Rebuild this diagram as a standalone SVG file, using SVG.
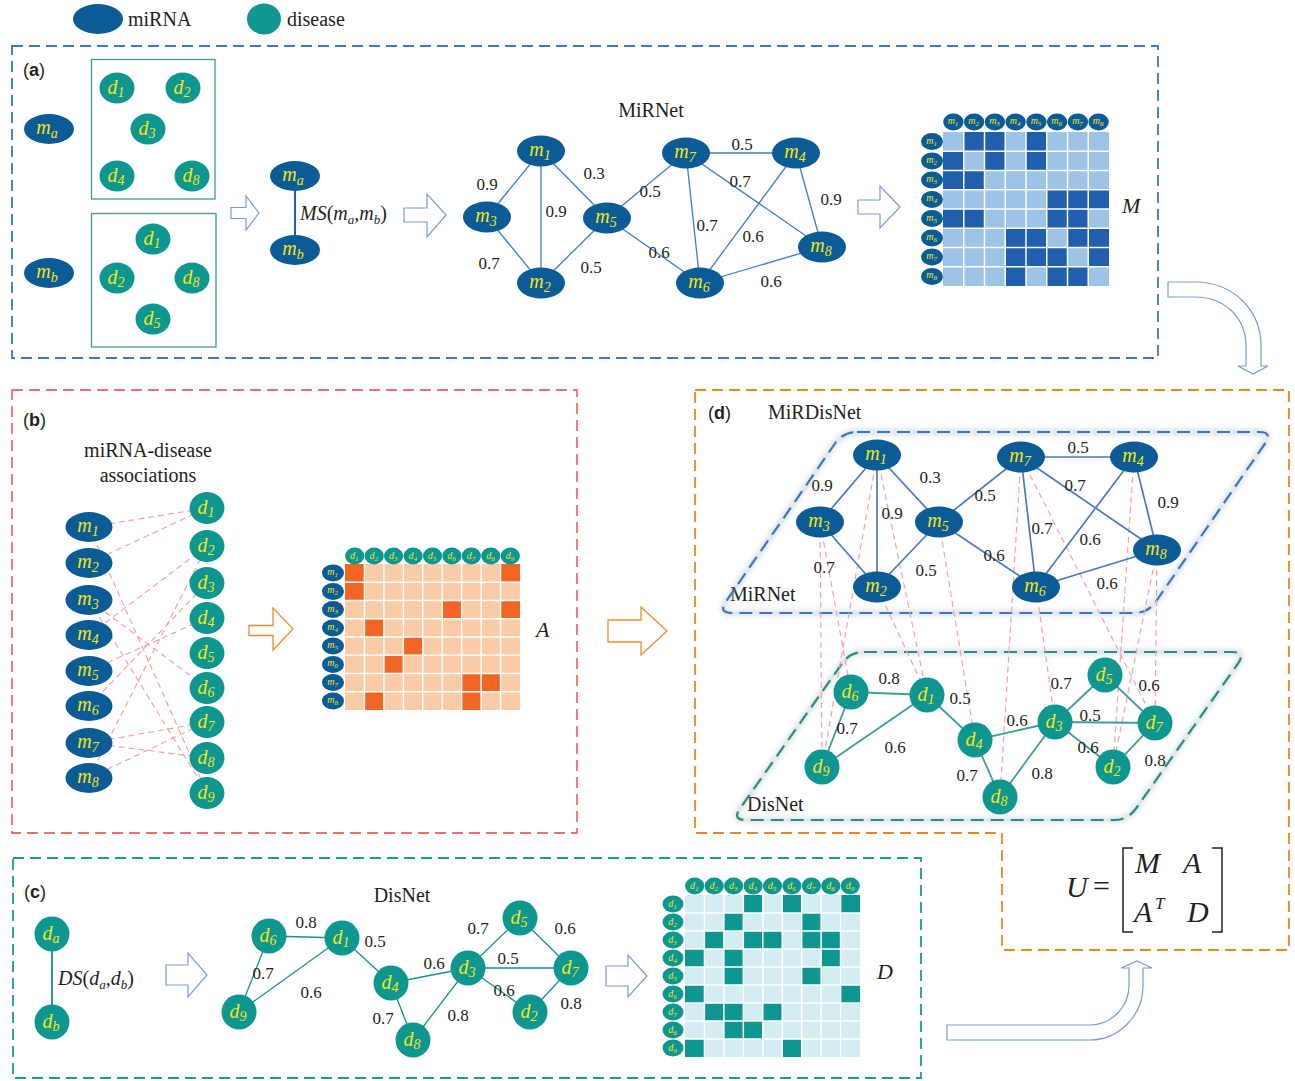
<svg xmlns="http://www.w3.org/2000/svg" width="1295" height="1081" viewBox="0 0 1295 1081">
<defs>
<style>
.mi{fill:#0B5C96}
.di{fill:#0E9690}
.lb{font-family:"Liberation Serif",serif;font-style:italic;font-size:20px;fill:#F3E617;text-anchor:middle}
.lb tspan{font-size:14px}
.hl{font-family:"Liberation Serif",serif;font-style:italic;font-size:10px;fill:#F3E617;text-anchor:middle}
.hl tspan{font-size:7px}
.num{font-family:"Liberation Serif",serif;font-size:17px;fill:#231F20;text-anchor:middle}
.tt{font-family:"Liberation Serif",serif;font-size:20px;fill:#231F20}
.it{font-family:"Liberation Serif",serif;font-style:italic;fill:#231F20}
.pl{font-family:"Liberation Sans",Arial,sans-serif;font-size:18px;fill:#231F20}
.eM{stroke:#3D7DCA;stroke-width:1.3;fill:none}
.eMd{stroke:#4A78C2;stroke-width:1.7;fill:none}
.eD{stroke:#16918B;stroke-width:1.3;fill:none}
.eDd{stroke:#3F9C96;stroke-width:1.8;fill:none}
.as{stroke:#F49A9A;stroke-width:1.1;stroke-dasharray:6 4;fill:none}
.as2{stroke:#F4A3A3;stroke-width:1.2;stroke-dasharray:6 4;fill:none}
.ha{fill:#fff;stroke:#7B9BD8;stroke-width:1.2}
.ho{fill:#fff;stroke:#F08A30;stroke-width:1.3}
.grid{stroke:#fff;stroke-width:1.5;fill:none}
.box{fill:none;stroke:#3E9A94;stroke-width:1.3}
</style>
<rect id="cm" width="20.75" height="19.25" fill="#1F5FAE"/>
<rect id="ca" width="19.44" height="18.25" fill="#F26522"/>
<rect id="cd" width="19.44" height="18" fill="#0E9690"/>
<filter id="sh" x="-10%" y="-10%" width="120%" height="120%"><feGaussianBlur stdDeviation="2.5"/></filter>
</defs>
<rect width="1295" height="1081" fill="#fff"/>

<!-- legend -->
<g id="legend">
<ellipse class="mi" cx="98" cy="19" rx="25" ry="15"/>
<text class="tt" x="128" y="26" font-size="21">miRNA</text>
<ellipse class="di" cx="264" cy="19" rx="17" ry="15.5"/>
<text class="tt" x="287" y="26" font-size="21">disease</text>
</g>

<!-- panel frames -->
<g id="frames" fill="none">
<rect x="12" y="46" width="1146" height="312" stroke="#3B77C6" stroke-width="1.8" stroke-dasharray="11 6"/>
<rect x="12" y="390" width="565" height="443" stroke="#EE6E73" stroke-width="1.8" stroke-dasharray="11 6"/>
<rect x="13" y="858" width="908" height="220" stroke="#1E9A94" stroke-width="1.8" stroke-dasharray="11 6"/>
<path d="M695,390 H1289 V950 H1002 V833 H695 Z" stroke="#F08325" stroke-width="1.8" stroke-dasharray="11 6"/>
</g>

<!-- panel labels and titles -->
<g id="titles">
<text class="pl" x="23" y="76">(<tspan font-weight="bold">a</tspan>)</text>
<text class="pl" x="23" y="426">(<tspan font-weight="bold">b</tspan>)</text>
<text class="pl" x="24" y="898">(<tspan font-weight="bold">c</tspan>)</text>
<text class="pl" x="708" y="419">(<tspan font-weight="bold">d</tspan>)</text>
<text class="tt" x="651" y="117" text-anchor="middle">MiRNet</text>
<text class="tt" x="148" y="457" text-anchor="middle">miRNA-disease</text>
<text class="tt" x="148" y="482" text-anchor="middle">associations</text>
<text class="tt" x="402" y="902" text-anchor="middle">DisNet</text>
<text class="tt" x="768" y="419">MiRDisNet</text>
<text class="tt" x="730" y="601">MiRNet</text>
<text class="tt" x="747" y="811">DisNet</text>
<text class="it" x="1122" y="213" font-size="22">M</text>
<text class="it" x="536" y="637" font-size="22">A</text>
<text class="it" x="877" y="979" font-size="22">D</text>
</g>

<!-- panel (a) left -->
<g id="a-ma"><ellipse class="mi" cx="49" cy="129" rx="25" ry="15"/><text class="lb" x="47" y="134">m<tspan dy="4">a</tspan></text></g>
<g id="a-mb"><ellipse class="mi" cx="49" cy="273" rx="25" ry="15"/><text class="lb" x="47" y="278">m<tspan dy="4">b</tspan></text></g>
<g id="a-box1">
<rect class="box" x="91.5" y="59.5" width="123.5" height="139.5"/>
<ellipse class="di" cx="117" cy="88" rx="17.5" ry="15.5"/><text class="lb" x="116" y="94">d<tspan dy="3">1</tspan></text>
<ellipse class="di" cx="183" cy="88" rx="17.5" ry="15.5"/><text class="lb" x="182" y="94">d<tspan dy="3">2</tspan></text>
<ellipse class="di" cx="148" cy="129" rx="17.5" ry="15.5"/><text class="lb" x="147" y="135">d<tspan dy="3">3</tspan></text>
<ellipse class="di" cx="117" cy="176" rx="17.5" ry="15.5"/><text class="lb" x="116" y="182">d<tspan dy="3">4</tspan></text>
<ellipse class="di" cx="192" cy="176" rx="17.5" ry="15.5"/><text class="lb" x="191" y="182">d<tspan dy="3">8</tspan></text>
</g>
<g id="a-box2">
<rect class="box" x="91.5" y="213.5" width="124.5" height="133.5"/>
<ellipse class="di" cx="153" cy="239" rx="17.5" ry="15.5"/><text class="lb" x="152" y="245">d<tspan dy="3">1</tspan></text>
<ellipse class="di" cx="117" cy="278" rx="17.5" ry="15.5"/><text class="lb" x="116" y="284">d<tspan dy="3">2</tspan></text>
<ellipse class="di" cx="192" cy="278" rx="17.5" ry="15.5"/><text class="lb" x="191" y="284">d<tspan dy="3">8</tspan></text>
<ellipse class="di" cx="153" cy="319" rx="17.5" ry="15.5"/><text class="lb" x="152" y="325">d<tspan dy="3">5</tspan></text>
</g>
<g id="a-ms">
<line x1="295" y1="190" x2="295" y2="236" stroke="#1F5FAE" stroke-width="2"/>
<ellipse class="mi" cx="295" cy="176" rx="25" ry="15"/><text class="lb" x="293" y="181">m<tspan dy="4">a</tspan></text>
<ellipse class="mi" cx="295" cy="250" rx="25" ry="15"/><text class="lb" x="293" y="255">m<tspan dy="4">b</tspan></text>
<text class="it" x="300" y="220" font-size="20">MS<tspan font-style="normal">(</tspan>m<tspan font-size="13" dy="4">a</tspan><tspan dy="-4">,m</tspan><tspan font-size="13" dy="4">b</tspan><tspan font-style="normal" dy="-4">)</tspan></text>
</g>

<!-- hollow arrows -->
<g id="arrows">
<path class="ha" d="M231,207.5 H246 V196 L259,213 L246,230 V218.5 H231 Z"/>
<path class="ha" d="M404,208 H427 V194 L446,215 L427,237 V222 H404 Z"/>
<path class="ha" d="M858,200 H880 V186 L900,207 L880,228 V214 H858 Z"/>
<path class="ho" d="M249,625.5 H273 V608 L293,629 L273,650 V635.5 H249 Z"/>
<path class="ho" d="M608,620 H641 V607 L667,631 L641,655 V642 H608 Z"/>
<path class="ha" d="M166,965 H188 V953 L207,975 L188,997 V985 H166 Z"/>
<path class="ha" d="M606,966 H628 V955 L647,976 L628,997 V986 H606 Z"/>
<path class="ha" stroke="#6E8FD0" d="M1168,282 H1195 C1233,282 1261,310 1261,346 V366 H1268 L1253,374 L1238,366 H1246 V346 C1246,318 1225,297 1195,297 H1168 Z"/>
<path class="ha" stroke="#6E8FD0" d="M947,1025 H1090 C1112,1025 1129,1006 1129,986 V968 H1121 L1137,961 L1152,968 H1143 V986 C1143,1016 1118,1040 1090,1040 H947 Z"/>
</g>

<!-- MiRNet (a) connectors -->
<g id="mirnet-a-edges" class="eM">
<line x1="541" y1="151" x2="487" y2="217"/>
<line x1="541" y1="151" x2="541" y2="283"/>
<line x1="541" y1="151" x2="607" y2="218"/>
<line x1="487" y1="217" x2="541" y2="283"/>
<line x1="541" y1="283" x2="607" y2="218"/>
<line x1="607" y1="218" x2="686" y2="153"/>
<line x1="607" y1="218" x2="700" y2="283"/>
<line x1="686" y1="153" x2="796" y2="153"/>
<line x1="686" y1="153" x2="700" y2="283"/>
<line x1="686" y1="153" x2="822" y2="247"/>
<line x1="796" y1="153" x2="700" y2="283"/>
<line x1="796" y1="153" x2="822" y2="247"/>
<line x1="700" y1="283" x2="822" y2="247"/>
</g>
<g id="mirnet-a-weights" class="num">
<text x="487" y="190">0.9</text><text x="556" y="217">0.9</text><text x="594" y="179">0.3</text>
<text x="489" y="269">0.7</text><text x="591" y="273">0.5</text><text x="650" y="197">0.5</text>
<text x="659" y="258">0.6</text><text x="742" y="150">0.5</text><text x="740" y="187">0.7</text>
<text x="707" y="231">0.7</text><text x="753" y="242">0.6</text><text x="831" y="205">0.9</text>
<text x="771" y="287">0.6</text>
</g>
<g id="mirnet-a-m1"><ellipse class="mi" cx="541" cy="151" rx="24" ry="15.5"/><text class="lb" x="540" y="156">m<tspan dy="4">1</tspan></text></g>
<g id="mirnet-a-m3"><ellipse class="mi" cx="487" cy="217" rx="24" ry="15.5"/><text class="lb" x="486" y="222">m<tspan dy="4">3</tspan></text></g>
<g id="mirnet-a-m2"><ellipse class="mi" cx="541" cy="283" rx="24" ry="15.5"/><text class="lb" x="540" y="288">m<tspan dy="4">2</tspan></text></g>
<g id="mirnet-a-m5"><ellipse class="mi" cx="607" cy="218" rx="24" ry="15.5"/><text class="lb" x="606" y="223">m<tspan dy="4">5</tspan></text></g>
<g id="mirnet-a-m7"><ellipse class="mi" cx="686" cy="153" rx="24" ry="15.5"/><text class="lb" x="685" y="158">m<tspan dy="4">7</tspan></text></g>
<g id="mirnet-a-m4"><ellipse class="mi" cx="796" cy="153" rx="24" ry="15.5"/><text class="lb" x="795" y="158">m<tspan dy="4">4</tspan></text></g>
<g id="mirnet-a-m8"><ellipse class="mi" cx="822" cy="247" rx="24" ry="15.5"/><text class="lb" x="821" y="252">m<tspan dy="4">8</tspan></text></g>
<g id="mirnet-a-m6"><ellipse class="mi" cx="700" cy="283" rx="24" ry="15.5"/><text class="lb" x="699" y="288">m<tspan dy="4">6</tspan></text></g>

<!-- Matrix M -->
<g id="matrix-M">
<rect x="943" y="132" width="166" height="154" fill="#9DC3E6"/>
<use href="#cm" x="963.75" y="132"/><use href="#cm" x="984.5" y="132"/><use href="#cm" x="1026" y="132"/>
<use href="#cm" x="943" y="151.25"/><use href="#cm" x="984.5" y="151.25"/><use href="#cm" x="1026" y="151.25"/>
<use href="#cm" x="943" y="170.5"/><use href="#cm" x="963.75" y="170.5"/>
<use href="#cm" x="1046.75" y="189.75"/><use href="#cm" x="1067.5" y="189.75"/><use href="#cm" x="1088.25" y="189.75"/>
<use href="#cm" x="943" y="209"/><use href="#cm" x="963.75" y="209"/><use href="#cm" x="1046.75" y="209"/><use href="#cm" x="1067.5" y="209"/>
<use href="#cm" x="1005.25" y="228.25"/><use href="#cm" x="1026" y="228.25"/><use href="#cm" x="1067.5" y="228.25"/><use href="#cm" x="1088.25" y="228.25"/>
<use href="#cm" x="1005.25" y="247.5"/><use href="#cm" x="1026" y="247.5"/><use href="#cm" x="1046.75" y="247.5"/><use href="#cm" x="1088.25" y="247.5"/>
<use href="#cm" x="1005.25" y="266.75"/><use href="#cm" x="1046.75" y="266.75"/><use href="#cm" x="1067.5" y="266.75"/>
<path class="grid" d="M963.75,132V286M984.5,132V286M1005.25,132V286M1026,132V286M1046.75,132V286M1067.5,132V286M1088.25,132V286M943,151.25H1109M943,170.5H1109M943,189.75H1109M943,209H1109M943,228.25H1109M943,247.5H1109M943,266.75H1109"/>
<g class="mi">
<ellipse cx="953.4" cy="122" rx="10.2" ry="8.5"/><ellipse cx="974.1" cy="122" rx="10.2" ry="8.5"/><ellipse cx="994.9" cy="122" rx="10.2" ry="8.5"/><ellipse cx="1015.6" cy="122" rx="10.2" ry="8.5"/><ellipse cx="1036.4" cy="122" rx="10.2" ry="8.5"/><ellipse cx="1057.1" cy="122" rx="10.2" ry="8.5"/><ellipse cx="1077.9" cy="122" rx="10.2" ry="8.5"/><ellipse cx="1098.6" cy="122" rx="10.2" ry="8.5"/>
<ellipse cx="932" cy="141.6" rx="11" ry="8.5"/><ellipse cx="932" cy="160.9" rx="11" ry="8.5"/><ellipse cx="932" cy="180.1" rx="11" ry="8.5"/><ellipse cx="932" cy="199.4" rx="11" ry="8.5"/><ellipse cx="932" cy="218.6" rx="11" ry="8.5"/><ellipse cx="932" cy="237.9" rx="11" ry="8.5"/><ellipse cx="932" cy="257.1" rx="11" ry="8.5"/><ellipse cx="932" cy="276.4" rx="11" ry="8.5"/>
</g>
<g class="hl">
<text x="953" y="124">m<tspan dy="2">1</tspan></text><text x="973.7" y="124">m<tspan dy="2">2</tspan></text><text x="994.5" y="124">m<tspan dy="2">3</tspan></text><text x="1015.2" y="124">m<tspan dy="2">4</tspan></text><text x="1036" y="124">m<tspan dy="2">5</tspan></text><text x="1056.7" y="124">m<tspan dy="2">6</tspan></text><text x="1077.5" y="124">m<tspan dy="2">7</tspan></text><text x="1098.2" y="124">m<tspan dy="2">8</tspan></text>
<text x="931.6" y="143.6">m<tspan dy="2">1</tspan></text><text x="931.6" y="162.9">m<tspan dy="2">2</tspan></text><text x="931.6" y="182.1">m<tspan dy="2">3</tspan></text><text x="931.6" y="201.4">m<tspan dy="2">4</tspan></text><text x="931.6" y="220.6">m<tspan dy="2">5</tspan></text><text x="931.6" y="239.9">m<tspan dy="2">6</tspan></text><text x="931.6" y="259.1">m<tspan dy="2">7</tspan></text><text x="931.6" y="278.4">m<tspan dy="2">8</tspan></text>
</g>
</g>

<!-- panel (b) associations -->
<g id="b-assoc" class="as">
<line x1="89" y1="527" x2="207" y2="508"/>
<line x1="89" y1="527" x2="207" y2="793"/>
<line x1="89" y1="563" x2="207" y2="508"/>
<line x1="89" y1="600" x2="207" y2="688"/>
<line x1="89" y1="600" x2="207" y2="793"/>
<line x1="89" y1="635" x2="207" y2="546"/>
<line x1="89" y1="671" x2="207" y2="618"/>
<line x1="89" y1="706" x2="207" y2="583"/>
<line x1="89" y1="743" x2="207" y2="722"/>
<line x1="89" y1="743" x2="207" y2="758"/>
<line x1="89" y1="778" x2="207" y2="546"/>
<line x1="89" y1="778" x2="207" y2="722"/>
</g>
<g id="b-m1"><ellipse class="mi" cx="89" cy="527" rx="23.5" ry="15"/><text class="lb" x="88" y="532">m<tspan dy="4">1</tspan></text></g>
<g id="b-m2"><ellipse class="mi" cx="89" cy="563" rx="23.5" ry="15"/><text class="lb" x="88" y="568">m<tspan dy="4">2</tspan></text></g>
<g id="b-m3"><ellipse class="mi" cx="89" cy="600" rx="23.5" ry="15"/><text class="lb" x="88" y="605">m<tspan dy="4">3</tspan></text></g>
<g id="b-m4"><ellipse class="mi" cx="89" cy="635" rx="23.5" ry="15"/><text class="lb" x="88" y="640">m<tspan dy="4">4</tspan></text></g>
<g id="b-m5"><ellipse class="mi" cx="89" cy="671" rx="23.5" ry="15"/><text class="lb" x="88" y="676">m<tspan dy="4">5</tspan></text></g>
<g id="b-m6"><ellipse class="mi" cx="89" cy="706" rx="23.5" ry="15"/><text class="lb" x="88" y="711">m<tspan dy="4">6</tspan></text></g>
<g id="b-m7"><ellipse class="mi" cx="89" cy="743" rx="23.5" ry="15"/><text class="lb" x="88" y="748">m<tspan dy="4">7</tspan></text></g>
<g id="b-m8"><ellipse class="mi" cx="89" cy="778" rx="23.5" ry="15"/><text class="lb" x="88" y="783">m<tspan dy="4">8</tspan></text></g>
<g id="b-d1"><ellipse class="di" cx="207" cy="508" rx="17.5" ry="16"/><text class="lb" x="206" y="514">d<tspan dy="3">1</tspan></text></g>
<g id="b-d2"><ellipse class="di" cx="207" cy="546" rx="17.5" ry="16"/><text class="lb" x="206" y="552">d<tspan dy="3">2</tspan></text></g>
<g id="b-d3"><ellipse class="di" cx="207" cy="583" rx="17.5" ry="16"/><text class="lb" x="206" y="589">d<tspan dy="3">3</tspan></text></g>
<g id="b-d4"><ellipse class="di" cx="207" cy="618" rx="17.5" ry="16"/><text class="lb" x="206" y="624">d<tspan dy="3">4</tspan></text></g>
<g id="b-d5"><ellipse class="di" cx="207" cy="653" rx="17.5" ry="16"/><text class="lb" x="206" y="659">d<tspan dy="3">5</tspan></text></g>
<g id="b-d6"><ellipse class="di" cx="207" cy="688" rx="17.5" ry="16"/><text class="lb" x="206" y="694">d<tspan dy="3">6</tspan></text></g>
<g id="b-d7"><ellipse class="di" cx="207" cy="722" rx="17.5" ry="16"/><text class="lb" x="206" y="728">d<tspan dy="3">7</tspan></text></g>
<g id="b-d8"><ellipse class="di" cx="207" cy="758" rx="17.5" ry="16"/><text class="lb" x="206" y="764">d<tspan dy="3">8</tspan></text></g>
<g id="b-d9"><ellipse class="di" cx="207" cy="793" rx="17.5" ry="16"/><text class="lb" x="206" y="799">d<tspan dy="3">9</tspan></text></g>

<!-- Matrix A -->
<g id="matrix-A">
<rect x="345" y="564" width="175" height="146" fill="#F9CBA6"/>
<use href="#ca" x="345" y="564"/><use href="#ca" x="500.56" y="564"/>
<use href="#ca" x="345" y="582.25"/>
<use href="#ca" x="442.22" y="600.5"/><use href="#ca" x="500.56" y="600.5"/>
<use href="#ca" x="364.44" y="618.75"/>
<use href="#ca" x="403.33" y="637"/>
<use href="#ca" x="383.89" y="655.25"/>
<use href="#ca" x="461.67" y="673.5"/><use href="#ca" x="481.11" y="673.5"/>
<use href="#ca" x="364.44" y="691.75"/><use href="#ca" x="461.67" y="691.75"/>
<path class="grid" d="M364.44,564V710M383.89,564V710M403.33,564V710M422.78,564V710M442.22,564V710M461.67,564V710M481.11,564V710M500.56,564V710M345,582.25H520M345,600.5H520M345,618.75H520M345,637H520M345,655.25H520M345,673.5H520M345,691.75H520"/>
<g class="di">
<ellipse cx="354.7" cy="556" rx="9.6" ry="8.5"/><ellipse cx="374.2" cy="556" rx="9.6" ry="8.5"/><ellipse cx="393.6" cy="556" rx="9.6" ry="8.5"/><ellipse cx="413.1" cy="556" rx="9.6" ry="8.5"/><ellipse cx="432.5" cy="556" rx="9.6" ry="8.5"/><ellipse cx="451.9" cy="556" rx="9.6" ry="8.5"/><ellipse cx="471.4" cy="556" rx="9.6" ry="8.5"/><ellipse cx="490.8" cy="556" rx="9.6" ry="8.5"/><ellipse cx="510.3" cy="556" rx="9.6" ry="8.5"/>
</g>
<g class="mi">
<ellipse cx="333" cy="573.1" rx="11" ry="8.5"/><ellipse cx="333" cy="591.4" rx="11" ry="8.5"/><ellipse cx="333" cy="609.6" rx="11" ry="8.5"/><ellipse cx="333" cy="627.9" rx="11" ry="8.5"/><ellipse cx="333" cy="646.1" rx="11" ry="8.5"/><ellipse cx="333" cy="664.4" rx="11" ry="8.5"/><ellipse cx="333" cy="682.6" rx="11" ry="8.5"/><ellipse cx="333" cy="700.9" rx="11" ry="8.5"/>
</g>
<g class="hl">
<text x="354.3" y="559">d<tspan dy="2">1</tspan></text><text x="373.8" y="559">d<tspan dy="2">2</tspan></text><text x="393.2" y="559">d<tspan dy="2">3</tspan></text><text x="412.7" y="559">d<tspan dy="2">4</tspan></text><text x="432.1" y="559">d<tspan dy="2">5</tspan></text><text x="451.5" y="559">d<tspan dy="2">6</tspan></text><text x="471" y="559">d<tspan dy="2">7</tspan></text><text x="490.4" y="559">d<tspan dy="2">8</tspan></text><text x="509.9" y="559">d<tspan dy="2">9</tspan></text>
<text x="332.6" y="575.1">m<tspan dy="2">1</tspan></text><text x="332.6" y="593.4">m<tspan dy="2">2</tspan></text><text x="332.6" y="611.6">m<tspan dy="2">3</tspan></text><text x="332.6" y="629.9">m<tspan dy="2">4</tspan></text><text x="332.6" y="648.1">m<tspan dy="2">5</tspan></text><text x="332.6" y="666.4">m<tspan dy="2">6</tspan></text><text x="332.6" y="684.6">m<tspan dy="2">7</tspan></text><text x="332.6" y="702.9">m<tspan dy="2">8</tspan></text>
</g>
</g>

<!-- panel (d) -->
<g id="d-planes" fill="none">
<path d="M857,432 H1259 Q1273,432 1265,443.5 L1156,601.5 Q1148,613 1134,613 H732 Q718,613 726,601.5 L835,443.5 Q843,432 857,432 Z" stroke="#9FB4C8" stroke-width="5" opacity="0.45" filter="url(#sh)"/>
<path d="M864,652 H1232 Q1246,652 1238,663.5 L1136,808.5 Q1128,820 1114,820 H746 Q732,820 740,808.5 L842,663.5 Q850,652 864,652 Z" stroke="#9FB8B8" stroke-width="5" opacity="0.45" filter="url(#sh)"/>
<path d="M857,432 H1259 Q1273,432 1265,443.5 L1156,601.5 Q1148,613 1134,613 H732 Q718,613 726,601.5 L835,443.5 Q843,432 857,432 Z" stroke="#3B77C6" stroke-width="2.2" stroke-dasharray="13 7"/>
<path d="M864,652 H1232 Q1246,652 1238,663.5 L1136,808.5 Q1128,820 1114,820 H746 Q732,820 740,808.5 L842,663.5 Q850,652 864,652 Z" stroke="#2E8B84" stroke-width="2.2" stroke-dasharray="13 7"/>
</g>
<g id="d-assoc" class="as2">
<line x1="877" y1="455" x2="927" y2="695"/>
<line x1="877" y1="455" x2="822" y2="767"/>
<line x1="877" y1="587" x2="927" y2="695"/>
<line x1="820" y1="522" x2="851" y2="692"/>
<line x1="820" y1="522" x2="822" y2="767"/>
<line x1="1134" y1="457" x2="1113" y2="767"/>
<line x1="939" y1="522" x2="975" y2="740"/>
<line x1="1036" y1="587" x2="1055" y2="722"/>
<line x1="1021" y1="457" x2="1155" y2="723"/>
<line x1="1021" y1="457" x2="1000" y2="797"/>
<line x1="1157" y1="550" x2="1113" y2="767"/>
<line x1="1157" y1="550" x2="1155" y2="723"/>
</g>
<g id="d-mirnet-edges" class="eMd">
<line x1="877" y1="455" x2="820" y2="522"/>
<line x1="877" y1="455" x2="877" y2="587"/>
<line x1="877" y1="455" x2="939" y2="522"/>
<line x1="820" y1="522" x2="877" y2="587"/>
<line x1="877" y1="587" x2="939" y2="522"/>
<line x1="939" y1="522" x2="1021" y2="457"/>
<line x1="939" y1="522" x2="1036" y2="587"/>
<line x1="1021" y1="457" x2="1134" y2="457"/>
<line x1="1021" y1="457" x2="1036" y2="587"/>
<line x1="1021" y1="457" x2="1157" y2="550"/>
<line x1="1134" y1="457" x2="1036" y2="587"/>
<line x1="1134" y1="457" x2="1157" y2="550"/>
<line x1="1036" y1="587" x2="1157" y2="550"/>
</g>
<g id="d-disnet-edges" class="eDd">
<line x1="851" y1="692" x2="927" y2="695"/>
<line x1="851" y1="692" x2="822" y2="767"/>
<line x1="822" y1="767" x2="927" y2="695"/>
<line x1="927" y1="695" x2="975" y2="740"/>
<line x1="975" y1="740" x2="1055" y2="722"/>
<line x1="975" y1="740" x2="1000" y2="797"/>
<line x1="1000" y1="797" x2="1055" y2="722"/>
<line x1="1055" y1="722" x2="1105" y2="675"/>
<line x1="1105" y1="675" x2="1155" y2="723"/>
<line x1="1055" y1="722" x2="1155" y2="723"/>
<line x1="1055" y1="722" x2="1113" y2="767"/>
<line x1="1113" y1="767" x2="1155" y2="723"/>
</g>
<g id="d-weights" class="num">
<text x="822" y="491">0.9</text><text x="930" y="483">0.3</text><text x="892" y="519">0.9</text>
<text x="985" y="501">0.5</text><text x="1078" y="453">0.5</text><text x="1075" y="491">0.7</text>
<text x="1168" y="508">0.9</text><text x="1042" y="534">0.7</text><text x="1090" y="545">0.6</text>
<text x="824" y="573">0.7</text><text x="926" y="576">0.5</text><text x="994" y="561">0.6</text>
<text x="1107" y="589">0.6</text>
<text x="889" y="684">0.8</text><text x="960" y="704">0.5</text><text x="1061" y="689">0.7</text>
<text x="1149" y="691">0.6</text><text x="1017" y="726">0.6</text><text x="1090" y="721">0.5</text>
<text x="847" y="734">0.7</text><text x="895" y="753">0.6</text><text x="1088" y="753">0.6</text>
<text x="1155" y="766">0.8</text><text x="967" y="781">0.7</text><text x="1042" y="779">0.8</text>
</g>
<g id="d-m1"><ellipse class="mi" cx="877" cy="455" rx="24" ry="15.5"/><text class="lb" x="876" y="460">m<tspan dy="4">1</tspan></text></g>
<g id="d-m3"><ellipse class="mi" cx="820" cy="522" rx="24" ry="15.5"/><text class="lb" x="819" y="527">m<tspan dy="4">3</tspan></text></g>
<g id="d-m2"><ellipse class="mi" cx="877" cy="587" rx="24" ry="15.5"/><text class="lb" x="876" y="592">m<tspan dy="4">2</tspan></text></g>
<g id="d-m5"><ellipse class="mi" cx="939" cy="522" rx="24" ry="15.5"/><text class="lb" x="938" y="527">m<tspan dy="4">5</tspan></text></g>
<g id="d-m7"><ellipse class="mi" cx="1021" cy="457" rx="24" ry="15.5"/><text class="lb" x="1020" y="462">m<tspan dy="4">7</tspan></text></g>
<g id="d-m4"><ellipse class="mi" cx="1134" cy="457" rx="24" ry="15.5"/><text class="lb" x="1133" y="462">m<tspan dy="4">4</tspan></text></g>
<g id="d-m8"><ellipse class="mi" cx="1157" cy="550" rx="24" ry="15.5"/><text class="lb" x="1156" y="555">m<tspan dy="4">8</tspan></text></g>
<g id="d-m6"><ellipse class="mi" cx="1036" cy="587" rx="24" ry="15.5"/><text class="lb" x="1035" y="592">m<tspan dy="4">6</tspan></text></g>
<g id="d-d6"><circle class="di" cx="851" cy="692" r="17.5"/><text class="lb" x="850" y="698">d<tspan dy="3">6</tspan></text></g>
<g id="d-d1"><circle class="di" cx="927" cy="695" r="17.5"/><text class="lb" x="926" y="701">d<tspan dy="3">1</tspan></text></g>
<g id="d-d4"><circle class="di" cx="975" cy="740" r="17.5"/><text class="lb" x="974" y="746">d<tspan dy="3">4</tspan></text></g>
<g id="d-d3"><circle class="di" cx="1055" cy="722" r="17.5"/><text class="lb" x="1054" y="728">d<tspan dy="3">3</tspan></text></g>
<g id="d-d5"><circle class="di" cx="1105" cy="675" r="17.5"/><text class="lb" x="1104" y="681">d<tspan dy="3">5</tspan></text></g>
<g id="d-d7"><circle class="di" cx="1155" cy="723" r="17.5"/><text class="lb" x="1154" y="729">d<tspan dy="3">7</tspan></text></g>
<g id="d-d2"><circle class="di" cx="1113" cy="767" r="17.5"/><text class="lb" x="1112" y="773">d<tspan dy="3">2</tspan></text></g>
<g id="d-d9"><circle class="di" cx="822" cy="767" r="17.5"/><text class="lb" x="821" y="773">d<tspan dy="3">9</tspan></text></g>
<g id="d-d8"><circle class="di" cx="1000" cy="797" r="17.5"/><text class="lb" x="999" y="803">d<tspan dy="3">8</tspan></text></g>

<!-- formula U -->
<g id="formula-U" class="it">
<text x="1066" y="897" font-size="30">U</text>
<text x="1093" y="896" font-size="30" font-style="normal">=</text>
<path d="M1133,848 H1123 V932 H1133 M1212,848 H1222 V932 H1212" fill="none" stroke="#231F20" stroke-width="1.5"/>
<text x="1135" y="873" font-size="30">M</text>
<text x="1183" y="873" font-size="30">A</text>
<text x="1134" y="922" font-size="30">A</text>
<text x="1155" y="909" font-size="17">T</text>
<text x="1187" y="922" font-size="30">D</text>
</g>

<!-- panel (c) -->
<g id="c-ds">
<line x1="52" y1="934" x2="52" y2="1022" stroke="#16918B" stroke-width="1.8"/>
<circle class="di" cx="52" cy="934" r="17.5"/><text class="lb" x="51" y="940">d<tspan dy="3">a</tspan></text>
<circle class="di" cx="52" cy="1022" r="17.5"/><text class="lb" x="51" y="1028">d<tspan dy="3">b</tspan></text>
<text class="it" x="58" y="985" font-size="20">DS<tspan font-style="normal">(</tspan>d<tspan font-size="13" dy="4">a</tspan><tspan dy="-4">,d</tspan><tspan font-size="13" dy="4">b</tspan><tspan font-style="normal" dy="-4">)</tspan></text>
</g>
<g id="disnet-c-edges" class="eD">
<line x1="269" y1="936" x2="342" y2="938"/>
<line x1="269" y1="936" x2="239" y2="1012"/>
<line x1="239" y1="1012" x2="342" y2="938"/>
<line x1="342" y1="938" x2="391" y2="983"/>
<line x1="391" y1="983" x2="468" y2="968"/>
<line x1="391" y1="983" x2="413" y2="1040"/>
<line x1="413" y1="1040" x2="468" y2="968"/>
<line x1="468" y1="968" x2="520" y2="918"/>
<line x1="520" y1="918" x2="571" y2="968"/>
<line x1="468" y1="968" x2="571" y2="968"/>
<line x1="468" y1="968" x2="530" y2="1012"/>
<line x1="530" y1="1012" x2="571" y2="968"/>
</g>
<g id="disnet-c-weights" class="num">
<text x="306" y="928">0.8</text><text x="375" y="947">0.5</text><text x="263" y="979">0.7</text>
<text x="311" y="998">0.6</text><text x="434" y="969">0.6</text><text x="478" y="934">0.7</text>
<text x="565" y="934">0.6</text><text x="508" y="964">0.5</text><text x="504" y="996">0.6</text>
<text x="571" y="1009">0.8</text><text x="383" y="1024">0.7</text><text x="458" y="1021">0.8</text>
</g>
<g id="c-d6"><circle class="di" cx="269" cy="936" r="17.5"/><text class="lb" x="268" y="942">d<tspan dy="3">6</tspan></text></g>
<g id="c-d1"><circle class="di" cx="342" cy="938" r="17.5"/><text class="lb" x="341" y="944">d<tspan dy="3">1</tspan></text></g>
<g id="c-d9"><circle class="di" cx="239" cy="1012" r="17.5"/><text class="lb" x="238" y="1018">d<tspan dy="3">9</tspan></text></g>
<g id="c-d4"><circle class="di" cx="391" cy="983" r="17.5"/><text class="lb" x="390" y="989">d<tspan dy="3">4</tspan></text></g>
<g id="c-d8"><circle class="di" cx="413" cy="1040" r="17.5"/><text class="lb" x="412" y="1046">d<tspan dy="3">8</tspan></text></g>
<g id="c-d3"><circle class="di" cx="468" cy="968" r="17.5"/><text class="lb" x="467" y="974">d<tspan dy="3">3</tspan></text></g>
<g id="c-d5"><circle class="di" cx="520" cy="918" r="17.5"/><text class="lb" x="519" y="924">d<tspan dy="3">5</tspan></text></g>
<g id="c-d7"><circle class="di" cx="571" cy="968" r="17.5"/><text class="lb" x="570" y="974">d<tspan dy="3">7</tspan></text></g>
<g id="c-d2"><circle class="di" cx="530" cy="1012" r="17.5"/><text class="lb" x="529" y="1018">d<tspan dy="3">2</tspan></text></g>

<!-- Matrix D -->
<g id="matrix-D">
<rect x="685" y="895" width="175" height="162" fill="#D3EDF3"/>
<use href="#cd" x="743.33" y="895"/><use href="#cd" x="782.22" y="895"/><use href="#cd" x="840.56" y="895"/>
<use href="#cd" x="723.89" y="913"/><use href="#cd" x="801.67" y="913"/>
<use href="#cd" x="704.44" y="931"/><use href="#cd" x="743.33" y="931"/><use href="#cd" x="762.78" y="931"/><use href="#cd" x="801.67" y="931"/><use href="#cd" x="821.11" y="931"/>
<use href="#cd" x="685" y="949"/><use href="#cd" x="723.89" y="949"/><use href="#cd" x="821.11" y="949"/>
<use href="#cd" x="723.89" y="967"/><use href="#cd" x="801.67" y="967"/>
<use href="#cd" x="685" y="985"/><use href="#cd" x="840.56" y="985"/>
<use href="#cd" x="704.44" y="1003"/><use href="#cd" x="723.89" y="1003"/><use href="#cd" x="762.78" y="1003"/>
<use href="#cd" x="723.89" y="1021"/><use href="#cd" x="743.33" y="1021"/>
<use href="#cd" x="685" y="1039"/><use href="#cd" x="782.22" y="1039"/>
<path class="grid" d="M704.44,895V1057M723.89,895V1057M743.33,895V1057M762.78,895V1057M782.22,895V1057M801.67,895V1057M821.11,895V1057M840.56,895V1057M685,913H860M685,931H860M685,949H860M685,967H860M685,985H860M685,1003H860M685,1021H860M685,1039H860"/>
<g class="di">
<ellipse cx="694.7" cy="886" rx="9.6" ry="8.5"/><ellipse cx="714.2" cy="886" rx="9.6" ry="8.5"/><ellipse cx="733.6" cy="886" rx="9.6" ry="8.5"/><ellipse cx="753.1" cy="886" rx="9.6" ry="8.5"/><ellipse cx="772.5" cy="886" rx="9.6" ry="8.5"/><ellipse cx="791.9" cy="886" rx="9.6" ry="8.5"/><ellipse cx="811.4" cy="886" rx="9.6" ry="8.5"/><ellipse cx="830.8" cy="886" rx="9.6" ry="8.5"/><ellipse cx="850.3" cy="886" rx="9.6" ry="8.5"/>
<ellipse cx="673" cy="904" rx="10.5" ry="8.5"/><ellipse cx="673" cy="922" rx="10.5" ry="8.5"/><ellipse cx="673" cy="940" rx="10.5" ry="8.5"/><ellipse cx="673" cy="958" rx="10.5" ry="8.5"/><ellipse cx="673" cy="976" rx="10.5" ry="8.5"/><ellipse cx="673" cy="994" rx="10.5" ry="8.5"/><ellipse cx="673" cy="1012" rx="10.5" ry="8.5"/><ellipse cx="673" cy="1030" rx="10.5" ry="8.5"/><ellipse cx="673" cy="1048" rx="10.5" ry="8.5"/>
</g>
<g class="hl">
<text x="694.3" y="889">d<tspan dy="2">1</tspan></text><text x="713.8" y="889">d<tspan dy="2">2</tspan></text><text x="733.2" y="889">d<tspan dy="2">3</tspan></text><text x="752.7" y="889">d<tspan dy="2">4</tspan></text><text x="772.1" y="889">d<tspan dy="2">5</tspan></text><text x="791.5" y="889">d<tspan dy="2">6</tspan></text><text x="811" y="889">d<tspan dy="2">7</tspan></text><text x="830.4" y="889">d<tspan dy="2">8</tspan></text><text x="849.9" y="889">d<tspan dy="2">9</tspan></text>
<text x="672.6" y="907">d<tspan dy="2">1</tspan></text><text x="672.6" y="925">d<tspan dy="2">2</tspan></text><text x="672.6" y="943">d<tspan dy="2">3</tspan></text><text x="672.6" y="961">d<tspan dy="2">4</tspan></text><text x="672.6" y="979">d<tspan dy="2">5</tspan></text><text x="672.6" y="997">d<tspan dy="2">6</tspan></text><text x="672.6" y="1015">d<tspan dy="2">7</tspan></text><text x="672.6" y="1033">d<tspan dy="2">8</tspan></text><text x="672.6" y="1051">d<tspan dy="2">9</tspan></text>
</g>
</g>
</svg>
